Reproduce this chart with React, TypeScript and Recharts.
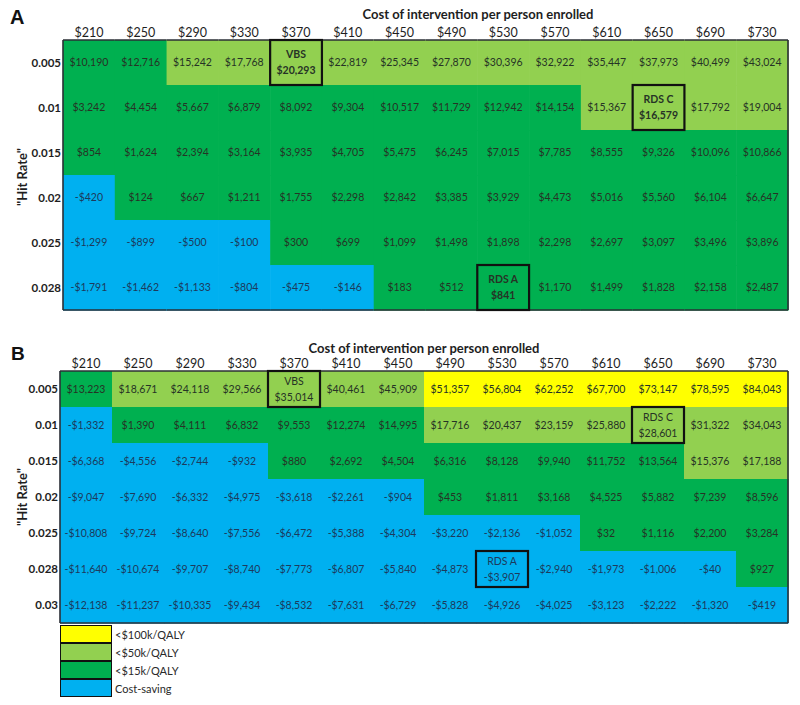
import { ScatterChart, Scatter, XAxis, YAxis } from 'recharts';

// column headers (cost of intervention per person enrolled)
const costLabels = ['$210', '$250', '$290', '$330', '$370', '$410', '$450', '$490', '$530', '$570', '$610', '$650', '$690', '$730'];

// panel A
const ratesA = ['0.005', '0.01', '0.015', '0.02', '0.025', '0.028'];
const valuesA = [
  [10190, 12716, 15242, 17768, 20293, 22819, 25345, 27870, 30396, 32922, 35447, 37973, 40499, 43024],
  [3242, 4454, 5667, 6879, 8092, 9304, 10517, 11729, 12942, 14154, 15367, 16579, 17792, 19004],
  [854, 1624, 2394, 3164, 3935, 4705, 5475, 6245, 7015, 7785, 8555, 9326, 10096, 10866],
  [-420, 124, 667, 1211, 1755, 2298, 2842, 3385, 3929, 4473, 5016, 5560, 6104, 6647],
  [-1299, -899, -500, -100, 300, 699, 1099, 1498, 1898, 2298, 2697, 3097, 3496, 3896],
  [-1791, -1462, -1133, -804, -475, -146, 183, 512, 841, 1170, 1499, 1828, 2158, 2487],
];

// panel B
const ratesB = ['0.005', '0.01', '0.015', '0.02', '0.025', '0.028', '0.03'];
const valuesB = [
  [13223, 18671, 24118, 29566, 35014, 40461, 45909, 51357, 56804, 62252, 67700, 73147, 78595, 84043],
  [-1332, 1390, 4111, 6832, 9553, 12274, 14995, 17716, 20437, 23159, 25880, 28601, 31322, 34043],
  [-6368, -4556, -2744, -932, 880, 2692, 4504, 6316, 8128, 9940, 11752, 13564, 15376, 17188],
  [-9047, -7690, -6332, -4975, -3618, -2261, -904, 453, 1811, 3168, 4525, 5882, 7239, 8596],
  [-10808, -9724, -8640, -7556, -6472, -5388, -4304, -3220, -2136, -1052, 32, 1116, 2200, 3284],
  [-11640, -10674, -9707, -8740, -7773, -6807, -5840, -4873, -3907, -2940, -1973, -1006, -40, 927],
  [-12138, -11237, -10335, -9434, -8532, -7631, -6729, -5828, -4926, -4025, -3123, -2222, -1320, -419],
];

// boxed scenarios (same cells in both panels)
const noteNames = ['VBS', 'RDS C', 'RDS A'];
const noteRows = [0, 1, 5];
const noteCols = [4, 11, 8];

const legendLabels = ['<$100k/QALY', '<$50k/QALY', '<$15k/QALY', 'Cost-saving'];
const legendColors = ['#FFFF00', '#92D050', '#00B050', '#00B0F0'];

const W = 800;
const FONT = 'Lato, "Open Sans", sans-serif';

function cellColor(v: number) {
  if (v < 0) return legendColors[3];
  if (v < 15000) return legendColors[2];
  if (v < 50000) return legendColors[1];
  return legendColors[0];
}

function textColor(v: number) {
  return v < 0 ? '#1d3a5c' : '#263326';
}

function fmt(v: number) {
  const s = '$' + Math.abs(v).toLocaleString('en-US');
  return v < 0 ? '-' + s : s;
}

function noteAt(r: number, c: number) {
  for (let i = 0; i < noteNames.length; i++) {
    if (noteRows[i] === r && noteCols[i] === c) return noteNames[i];
  }
  return '';
}

interface Cell {
  col: number;
  row: number;
  value: number;
  note: string;
}

interface PanelProps {
  rates: string[];
  values: number[][];
  top: number;
  height: number;
  axisH: number;
  yW: number;
  boldNotes: boolean;
}

function HeatPanel({ rates, values, top, height, axisH, yW, boldNotes }: PanelProps) {
  const margin = { top: 0, right: 12, bottom: 2, left: 0 };
  const nCols = costLabels.length;
  const nRows = rates.length;
  const cw = (W - yW - margin.right) / nCols;
  const ch = (height - axisH - margin.bottom) / nRows;

  const cells: Cell[] = values.flatMap((row, r) =>
    row.map((v, c) => ({ col: c, row: r, value: v, note: noteAt(r, c) }))
  );
  const noted = cells.filter((d) => d.note);

  const cellShape = (p: any) => {
    const { cx, cy, payload } = p;
    const d = payload as Cell;
    const x = cx - cw / 2;
    const y = cy - ch / 2;
    const edge = { stroke: '#2b2f36', strokeWidth: 1.6 };
    return (
      <g>
        <rect x={x} y={y} width={cw + 0.6} height={ch + 0.6} fill={cellColor(d.value)} />
        {!d.note && (
          <text x={cx} y={cy} dy="0.35em" textAnchor="middle" fontSize={10.5} fontFamily={FONT} fill={textColor(d.value)}>
            {fmt(d.value)}
          </text>
        )}
        {d.col === 0 && <line x1={x} x2={x} y1={y} y2={y + ch} {...edge} />}
        {d.col === nCols - 1 && <line x1={x + cw} x2={x + cw} y1={y} y2={y + ch} {...edge} />}
        {d.row === 0 && <line x1={x} x2={x + cw} y1={y} y2={y} {...edge} />}
        {d.row === nRows - 1 && <line x1={x} x2={x + cw} y1={y + ch} y2={y + ch} {...edge} />}
      </g>
    );
  };

  const noteShape = (p: any) => {
    const { cx, cy, payload } = p;
    const d = payload as Cell;
    return (
      <g>
        <rect x={cx - cw / 2} y={cy - ch / 2} width={cw} height={ch} fill="none" stroke="#111" strokeWidth={2.2} />
        <text x={cx} y={cy - 8} dy="0.35em" textAnchor="middle" fontSize={10.5} fontFamily={FONT}
          fontWeight={boldNotes ? 700 : 400} fill={textColor(d.value)}>
          {d.note}
        </text>
        <text x={cx} y={cy + 8} dy="0.35em" textAnchor="middle" fontSize={10.5} fontFamily={FONT}
          fontWeight={boldNotes ? 700 : 400} fill={textColor(d.value)}>
          {fmt(d.value)}
        </text>
      </g>
    );
  };

  return (
    <div style={{ position: 'absolute', left: 0, top }}>
      <ScatterChart width={W} height={height} margin={margin}>
        <XAxis
          type="number"
          dataKey="col"
          orientation="top"
          height={axisH}
          domain={[-0.5, nCols - 0.5]}
          ticks={costLabels.map((_, i) => i)}
          interval={0}
          tickFormatter={(i: number) => costLabels[i]}
          tick={{ fill: '#1e1e1e', fontSize: 12.5, fontFamily: FONT }}
          tickSize={0}
          tickMargin={3}
          axisLine={false}
          tickLine={false}
        />
        <YAxis
          type="number"
          dataKey="row"
          width={yW}
          reversed
          domain={[-0.5, nRows - 0.5]}
          ticks={rates.map((_, i) => i)}
          interval={0}
          tickFormatter={(i: number) => rates[i]}
          tick={{ fill: '#1e1e1e', fontSize: 11.5, fontWeight: 700, fontFamily: FONT }}
          tickSize={0}
          tickMargin={2}
          axisLine={false}
          tickLine={false}
        />
        <Scatter data={cells} shape={cellShape} isAnimationActive={false} />
        <Scatter data={noted} shape={noteShape} isAnimationActive={false} />
      </ScatterChart>
    </div>
  );
}

const titleStyle: React.CSSProperties = {
  position: 'absolute',
  fontFamily: FONT,
  fontWeight: 700,
  fontSize: 13,
  lineHeight: '14px',
  color: '#1e1e1e',
  whiteSpace: 'nowrap',
  transform: 'translate(-50%, -50%)',
};

const hitStyle: React.CSSProperties = {
  ...titleStyle,
  transform: 'translate(-50%, -50%) rotate(-90deg)',
};

const letterStyle: React.CSSProperties = {
  position: 'absolute',
  fontFamily: 'Arial, "Liberation Sans", sans-serif',
  fontWeight: 700,
  lineHeight: '20px',
  color: '#111',
};

export default function App() {
  return (
    <div style={{ position: 'absolute', left: 0, top: 0, width: 800, height: 705, background: '#fff', overflow: 'hidden' }}>
      <HeatPanel rates={ratesA} values={valuesA} top={0} height={312} axisH={40} yW={63} boldNotes />
      <HeatPanel rates={ratesB} values={valuesB} top={335} height={290} axisH={36} yW={60} boldNotes={false} />

      <div style={{ ...letterStyle, left: 10, top: 7, fontSize: 20 }}>A</div>
      <div style={{ ...letterStyle, left: 11, top: 344, fontSize: 19 }}>B</div>
      <div style={{ ...titleStyle, left: 478, top: 14 }}>Cost of intervention per person enrolled</div>
      <div style={{ ...titleStyle, left: 424, top: 348 }}>Cost of intervention per person enrolled</div>
      <div style={{ ...hitStyle, left: 22, top: 177 }}>"Hit Rate"</div>
      <div style={{ ...hitStyle, left: 22, top: 497 }}>"Hit Rate"</div>

      <div style={{ position: 'absolute', left: 60, top: 625 }}>
        {legendLabels.map((label, i) => (
          <div key={label} style={{ display: 'flex', alignItems: 'center', height: 18 }}>
            <div
              style={{
                width: 50,
                height: 16,
                background: legendColors[i],
                border: '1.5px solid #111',
                borderTopWidth: i === 0 ? 1.5 : 0.75,
                borderBottomWidth: i === legendLabels.length - 1 ? 1.5 : 0.75,
              }}
            />
            <span style={{ marginLeft: 3, fontFamily: FONT, fontSize: 11, color: '#2a2a2a' }}>{label}</span>
          </div>
        ))}
      </div>
    </div>
  );
}
